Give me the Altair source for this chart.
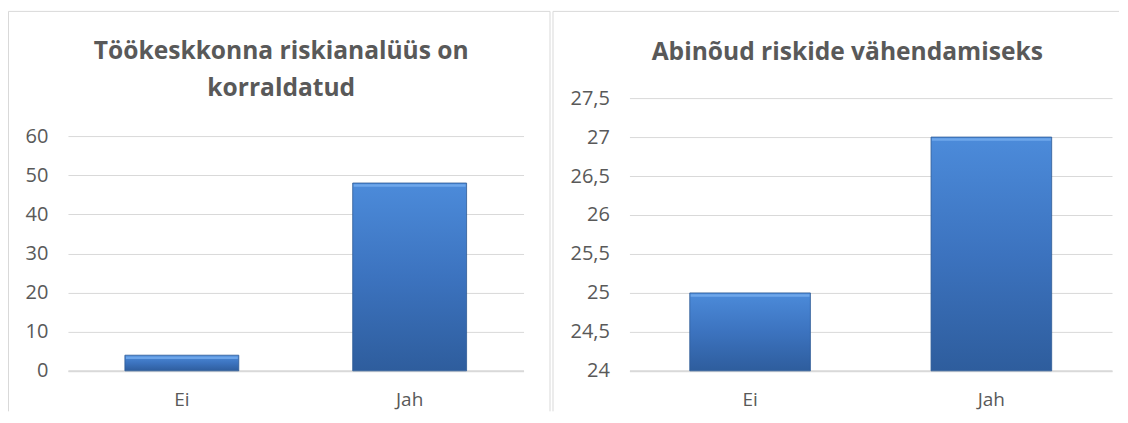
import altair as alt
import pandas as pd

# ---- data ----
categories = ["Ei", "Jah"]
left_values = [4, 48]
right_values = [25, 27]
left_title = ["Töökeskkonna riskianalüüs on", "korraldatud"]
right_title = "Abinõud riskide vähendamiseks"
left_ticks = [0, 10, 20, 30, 40, 50, 60]
right_ticks = [24, 24.5, 25, 25.5, 26, 26.5, 27, 27.5]
right_base = 24

FONT = "Open Sans"
TEXT = "#595959"
GRID = "#d9d9d9"
FRAME = "#d9d9d9"

PH = 273          # plot height (both panels)
LW = 456          # left plot width
RW = 483          # right plot width
FRAME_BOTTOM = 313.5

left_df = pd.DataFrame({"cat": categories, "val": left_values})
right_df = pd.DataFrame({"cat": categories, "val": right_values,
                         "base": [right_base] * len(categories)})
one = pd.DataFrame({"k": [0]})

grad = alt.Gradient(
    gradient="linear", x1=0, y1=0, x2=0, y2=1,
    stops=[alt.GradientStop(offset=0, color="#4c8bda"),
           alt.GradientStop(offset=0.5, color="#3c73bf"),
           alt.GradientStop(offset=1, color="#2e5d9d")])


def x_enc():
    return alt.X("cat:N", sort=categories, title=None,
                 scale=alt.Scale(paddingInner=0.5, paddingOuter=0.25),
                 axis=alt.Axis(labelAngle=0, ticks=False, grid=False,
                               domainColor=GRID, domainWidth=2,
                               labelPadding=20, labelFont=FONT,
                               labelFontSize=19, labelColor=TEXT))


def frame(left, right, top, bottom, right_side=True):
    layers = [
        alt.Chart(one).mark_rule(color=FRAME, strokeWidth=1).encode(
            x=alt.value(left), y=alt.value(top), y2=alt.value(bottom)),
        alt.Chart(one).mark_rule(color=FRAME, strokeWidth=1).encode(
            x=alt.value(left), x2=alt.value(right), y=alt.value(top)),
    ]
    if right_side:
        layers.append(
            alt.Chart(one).mark_rule(color=FRAME, strokeWidth=1).encode(
                x=alt.value(right), y=alt.value(top), y2=alt.value(bottom)))
    return layers


left_max = 60 * PH / 235.0
left_y = alt.Y("val:Q", title=None,
               scale=alt.Scale(domain=[0, left_max], nice=False, zero=True),
               axis=alt.Axis(values=left_ticks, domain=False, ticks=False,
                             grid=True, gridColor=GRID, gridWidth=1,
                             labelPadding=20, labelFont=FONT, labelFontSize=20,
                             labelColor=TEXT))

right_y = alt.Y("val:Q", title=None,
                scale=alt.Scale(domain=[right_ticks[0], right_ticks[-1]], nice=False, zero=False),
                axis=alt.Axis(values=right_ticks, domain=False, ticks=False,
                              grid=True, gridColor=GRID, gridWidth=1,
                              labelExpr="replace(toString(datum.value), '.', ',')",
                              labelPadding=20, labelFont=FONT, labelFontSize=20,
                              labelColor=TEXT))


def bevel(df, size, y_enc):
    # light highlight strip along the top edge of each bar
    return alt.Chart(df).mark_tick(color="#79b0f0", thickness=2.5, size=size,
                                   yOffset=2.5, opacity=0.75).encode(
        x=x_enc(), y=y_enc)


left_bars = alt.Chart(left_df).mark_bar(fill=grad, stroke="#2d5a96", strokeWidth=0.8).encode(
    x=x_enc(), y=left_y)

left = alt.layer(*frame(-59.5, 482.5, -86.8, FRAME_BOTTOM), left_bars,
                 bevel(left_df, 112, left_y)).properties(
    width=LW, height=PH,
    title=alt.TitleParams(text=left_title, font=FONT, fontSize=24.6,
                          fontWeight="bold", color=TEXT, anchor="middle",
                          baseline="alphabetic", lineHeight=37, offset=-110,
                          dx=-14.5),
)

right_bars = alt.Chart(right_df).mark_bar(fill=grad, stroke="#2d5a96", strokeWidth=0.8).encode(
    x=x_enc(), y=right_y, y2="base:Q")

right = alt.layer(*frame(-76.5, 490, -86.8, FRAME_BOTTOM, right_side=False), right_bars,
                  bevel(right_df, 119, right_y)).properties(
    width=RW, height=PH,
    title=alt.TitleParams(text=right_title, font=FONT, fontSize=24.6,
                          fontWeight="bold", color=TEXT, anchor="middle",
                          baseline="alphabetic", offset=-74, dx=-23.5),
)

chart = alt.hconcat(left, right, spacing=106, bounds="flush").properties(
    padding={"left": 0, "top": 2, "right": 0, "bottom": 0},
).configure(font=FONT).configure_view(strokeWidth=0)

chart.save("out.html", embed_options={"renderer": "svg", "actions": False})
